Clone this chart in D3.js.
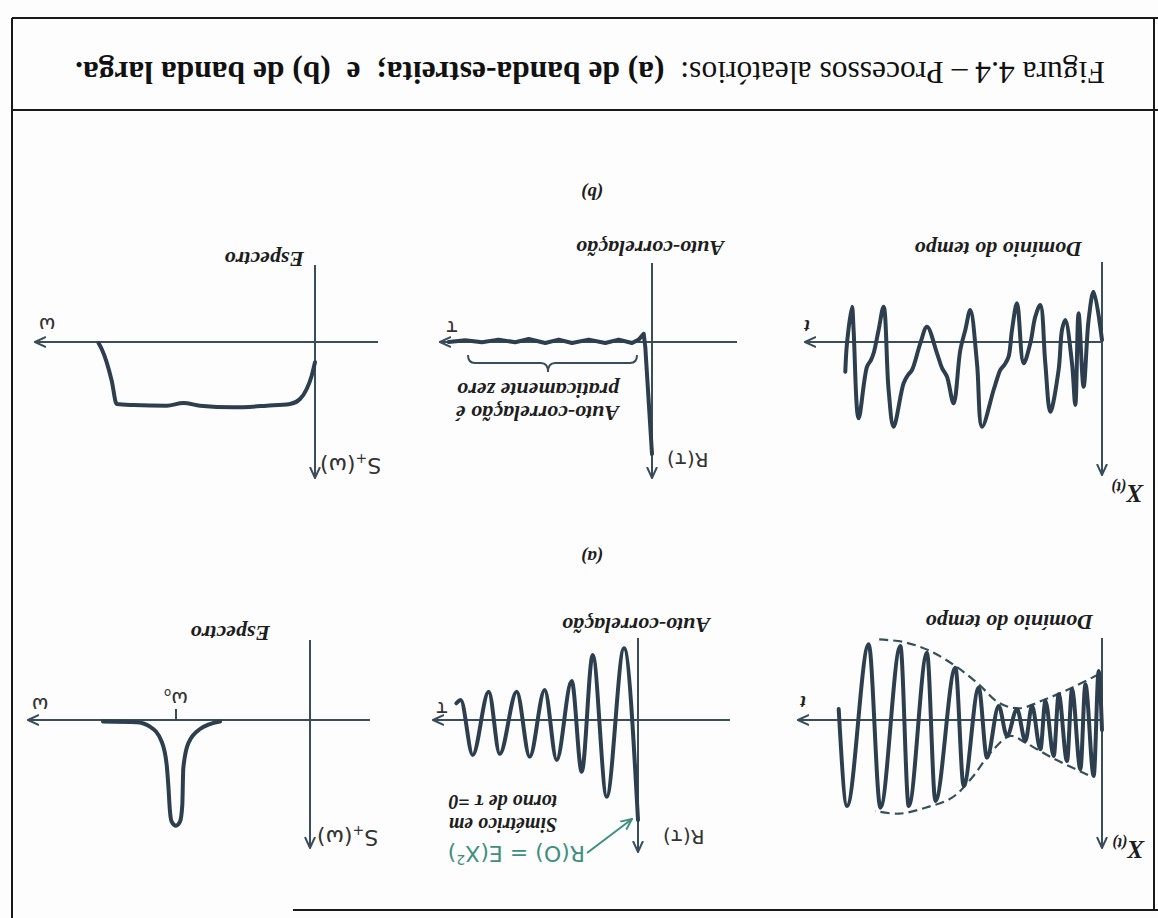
<!DOCTYPE html>
<html>
<head>
<meta charset="utf-8">
<script src="https://d3js.org/d3.v7.min.js"></script>
<style>
body { margin:0; background:#fff; }
.eixo { stroke:#3a4d5a; stroke-width:2; fill:none; }
.curva { stroke:#2d3f4e; stroke-width:4; fill:none; stroke-linejoin:round; stroke-linecap:round; }
.env { stroke:#34505a; stroke-width:2.2; fill:none; stroke-dasharray:9,5; }
.rotulo { font-family:"Liberation Serif", serif; font-style:italic; font-weight:bold; font-size:22px; fill:#1e1e1e; }
.nota { font-family:"Liberation Serif", serif; font-style:italic; font-weight:bold; font-size:20px; fill:#1e1e1e; }
.letra { font-family:"Liberation Serif", serif; font-style:italic; font-weight:bold; font-size:19px; fill:#1e1e1e; }
.mao { font-family:"DejaVu Sans", sans-serif; font-size:20px; fill:#333; }
.moldura { stroke:#1a1a1a; stroke-width:2; }
</style>
</head>
<body>
<svg width=1158 height=918></svg>
<script>
// ---- valores (unidades aproximadas em pixels do desenho) ----

// (a) banda estreita - domínio do tempo
const tA_t = [0, 3.3, 8.3, 16.6, 21.6, 30, 35, 43.3, 48.3, 56.6, 61.6, 70, 76.6, 85, 95, 103.3, 115, 123.3, 138.3, 146.6, 166.6, 175, 193.3, 201.6, 221.6, 233.3, 255, 263.3];
const tA_x = [10, -49, 56, -35.7, 49.3, -30.7, 41, -25.7, 36, -19, 29.3, -14, 21, -10.7, 16, -14, 37.7, -32.3, 66, -52.3, 81, -67.3, 86, -74, 87.7, -75.7, 86, -11];
// envoltórias tracejadas
const envPos_t = [14, 50, 76.6, 91.6, 110, 130, 150, 176.6, 203.3, 226.6];
const envPos_x = [55, 37.7, 22.7, 16, 31, 57.7, 77.7, 87.7, 93.7, 91];
const envNeg_t = [3.3, 30, 56.6, 83.3, 103.3, 123.3, 146.6, 173.3, 200, 226.6];
const envNeg_x = [-45.7, -32.3, -20.7, -11.7, -17.3, -35.7, -54, -69.7, -78.3, -80.7];

// (a) auto-correlação
const rA_tau = [0, 14, 31.3, 45.3, 56.3, 66.3, 81.3, 93.3, 108.3, 121.3, 138.3, 149.3, 165.3, 177.3, 181.6];
const rA_R = [100, -71.7, 76.7, -65, 51.7, -39, 40, -30, 36.7, -28.3, 34, -28.3, 35, -20, -16.7];

// (a) espectro
const sA_w = [90, 110, 121.7, 126.7, 127.7, 130, 134, 138.3, 140, 141.7, 143.3, 148.3, 160, 173.3, 207];
const sA_S = [1.5, 9, 23.3, 48.3, 85, 101.7, 105.7, 101.7, 91.7, 65, 45, 21.7, 6.7, 2.3, 1.5];
const omega0 = 134;

// (b) banda larga - domínio do tempo
const tB_t = [0, 8.4, 13.4, 18.4, 23.4, 26.7, 30, 36.7, 40, 43.4, 51.7, 56.7, 61.7, 66.7, 71.7, 78.4, 85, 90, 93.4, 97, 101.7, 104, 108.4, 120, 125, 131.7, 136.7, 141.7, 148.4, 155, 160, 165, 175, 181.7, 190, 194, 198.4, 208.4, 213.4, 218.4, 223.4, 228.4, 231, 235, 243.4, 248.4, 250, 255, 256.7];
const tB_x = [-2, -50.3, -22, 44.7, -28.7, 63, 21.3, -22, -12, 28, 69.7, 21.3, -37, -25.3, 1.3, 21.3, -38.7, -12, 14.7, 22, 28, 34, 48, 84.7, 21.3, -32, -12, 8, 61.3, 34.7, 26, 11.3, -15.3, 1.3, 28, 33, 41.3, 84.7, 48, -35.3, -12, 11.3, 18, 24.7, 76.3, -12, -35.3, 1.3, 29.7];

// (b) auto-correlação
const rB_tau = [0, 6.7, 8.3, 13.3, 20, 33.3, 46.7, 63.3, 80, 93.3, 106.7, 123.3, 136.7, 153.3, 170, 186.7, 203.3];
const rB_R = [112, 5, -8.3, -2.4, 1, -2.4, 1, -2.4, 1, -2.4, 1, -3, 0.3, -2.4, 0.3, -1.7, 0];
const chave = {de: 15, ate: 184, ponta: 104};

// (b) espectro
const sB_w = [0, 3.3, 8.3, 15, 25, 48.3, 81.7, 115, 131.7, 148.3, 181.7, 198.3, 203.3, 208.3, 213.3, 216.5];
const sB_S = [20.3, 33.7, 47, 57, 62, 63.7, 65.3, 63.7, 61, 63.7, 63, 62, 38.7, 20.3, 7, 1];

const titulos = ["Domínio do tempo", "Auto-correlação", "Espectro"];
const legenda1 = "Figura 4.4 – Processos aleatórios:";
const legenda2 = "(a) de banda-estreita;  e  (b) de banda larga.";

// ---------------------------------------------------------------
const W = 1158, H = 918;
const svg = d3.select("svg");
svg.append("rect").attr("width", W).attr("height", H).attr("fill", "#fdfdfd");

const defs = svg.append("defs");
function marcador(id, cor) {
  defs.append("marker").attr("id", id).attr("viewBox", "0 -6 12 12")
    .attr("refX", 11).attr("refY", 0).attr("markerWidth", 12).attr("markerHeight", 12)
    .attr("markerUnits", "userSpaceOnUse").attr("orient", "auto")
    .append("path").attr("d", "M0,-5L11,0L0,5").attr("fill", "none")
    .attr("stroke", cor).attr("stroke-width", 2);
}
marcador("seta", "#3a4d5a");
marcador("setaVerde", "#3f8f80");

// a página digitalizada está de cabeça para baixo
const root = svg.append("g").attr("transform", `rotate(180 ${W / 2} ${H / 2})`);

// moldura
root.append("line").attr("class", "moldura").attr("x1", 1146).attr("y1", 0).attr("x2", 1146).attr("y2", 900);
root.append("line").attr("class", "moldura").attr("x1", 0).attr("y1", 900).attr("x2", 1146).attr("y2", 900);
root.append("line").attr("class", "moldura").attr("x1", 0).attr("y1", 808).attr("x2", 1146).attr("y2", 808);
root.append("line").attr("class", "moldura").attr("x1", 0).attr("y1", 8).attr("x2", 865).attr("y2", 8);
root.append("line").attr("class", "moldura").attr("x1", 4).attr("y1", 8).attr("x2", 4).attr("y2", 900);

function painel(ox, oy, xmin, xmax, ymin, ymax) {
  const x = d3.scaleLinear().domain([0, 100]).range([ox, ox + 100]);
  const y = d3.scaleLinear().domain([0, 100]).range([oy, oy - 100]);
  const g = root.append("g");
  g.append("line").attr("class", "eixo").attr("x1", x(xmin)).attr("x2", x(xmax))
    .attr("y1", y(0)).attr("y2", y(0)).attr("marker-end", "url(#seta)");
  g.append("line").attr("class", "eixo").attr("x1", x(0)).attr("x2", x(0))
    .attr("y1", y(ymin)).attr("y2", y(ymax)).attr("marker-end", "url(#seta)");
  return {x, y, g};
}
function curva(p, xs, ys, tipo, cls) {
  const pts = xs.map((v, i) => [v, ys[i]]);
  const line = d3.line().x(d => p.x(d[0])).y(d => p.y(d[1])).curve(tipo);
  p.g.append("path").attr("class", cls || "curva").attr("d", line(pts));
}
function texto(p, xv, yv, s, cls, anc) {
  return p.g.append("text").attr("class", cls).attr("x", p.x(xv)).attr("y", p.y(yv))
    .attr("text-anchor", anc || "start").text(s);
}
function rotuloX(p, xv, yv) {
  const t = p.g.append("text").attr("class", "letra").attr("x", p.x(xv)).attr("y", p.y(yv));
  t.append("tspan").style("font-size", "25px").text("X");
  t.append("tspan").style("font-size", "16px").attr("dy", 3).text("(t)");
}
function rotuloS(p, xv, yv) {
  const t = p.g.append("text").attr("class", "mao").attr("x", p.x(xv)).attr("y", p.y(yv)).attr("text-anchor", "end")
    .style("font-size", "22px");
  t.append("tspan").text("S");
  t.append("tspan").style("font-size", "14px").attr("dy", 4).text("+");
  t.append("tspan").attr("dy", -4).text("(ω)");
}

// ---------- linha (a) ----------
const pTA = painel(56, 198, 0, 304, -82, 128);
curva(pTA, envPos_t, envPos_x, d3.curveCatmullRom, "env");
curva(pTA, envNeg_t, envNeg_x, d3.curveCatmullRom, "env");
curva(pTA, tA_t, tA_x, d3.curveMonotoneX);
texto(pTA, 9, -105, titulos[0], "rotulo");
texto(pTA, 299, -24, "t", "letra", "middle");
rotuloX(pTA, -42, 121);

const pRA = painel(520, 198, -92, 205, -82, 132);
curva(pRA, rA_tau, rA_R, d3.curveMonotoneX);
texto(pRA, -72, -102, titulos[1], "rotulo");
texto(pRA, 196, -18, "τ", "mao", "middle");
texto(pRA, -25, 110, "R(τ)", "mao", "end");
texto(pRA, 81, 98, "Simétrico em", "nota");
texto(pRA, 81, 75, "torno de  τ =0", "nota");
const r0 = pRA.g.append("text").attr("x", pRA.x(53)).attr("y", pRA.y(126))
  .style("font-family", "'DejaVu Sans', sans-serif").style("font-size", "22px").style("fill", "#3f8f80");
r0.append("tspan").text("R(O) = E(X");
r0.append("tspan").style("font-size", "14px").attr("dy", -9).text("2");
r0.append("tspan").attr("dy", 9).text(")");
pRA.g.append("line").attr("x1", pRA.x(51)).attr("y1", pRA.y(133)).attr("x2", pRA.x(6)).attr("y2", pRA.y(99))
  .attr("stroke", "#3f8f80").attr("stroke-width", 2).attr("marker-end", "url(#setaVerde)");

const pSA = painel(848, 198, -60, 282, -80, 128);
curva(pSA, sA_w, sA_S, d3.curveMonotoneX);
pSA.g.append("line").attr("class", "eixo").attr("x1", pSA.x(omega0)).attr("x2", pSA.x(omega0))
  .attr("y1", pSA.y(0)).attr("y2", pSA.y(-11));
texto(pSA, 40, -94, titulos[2], "rotulo");
texto(pSA, 270, -22, "ω", "mao", "middle");
const w0 = texto(pSA, omega0, -28, "ω", "mao", "middle");
w0.append("tspan").style("font-size", "12px").attr("dy", 3).text("o");
rotuloS(pSA, -7, 110);

// ---------- linha (b) ----------
const pTB = painel(56, 576, 0, 297, -80, 133);
curva(pTB, tB_t, tB_x, d3.curveCatmullRom);
texto(pTB, 20, -100, titulos[0], "rotulo");
texto(pTB, 295, -22, "t", "letra", "middle");
rotuloX(pTB, -41, 143);

const pRB = painel(506, 576, -85, 212, -79, 136);
curva(pRB, rB_tau, rB_R, d3.curveLinear);
texto(pRB, -72, -101, titulos[1], "rotulo");
texto(pRB, 200, -21, "τ", "mao", "middle");
texto(pRB, -15, 111, "R(τ)", "mao", "end");
// chave sobre a parte "praticamente zero"
{
  const x = pRB.x, y = pRB.y, a = chave.de, b = chave.ate, m = chave.ponta;
  const d = `M${x(a)},${y(13)} Q${x(a)},${y(21)} ${x(a + 7)},${y(21)} L${x(m - 7)},${y(21)} ` +
            `Q${x(m)},${y(21)} ${x(m)},${y(30)} Q${x(m)},${y(21)} ${x(m + 7)},${y(21)} ` +
            `L${x(b - 7)},${y(21)} Q${x(b)},${y(21)} ${x(b)},${y(13)}`;
  pRB.g.append("path").attr("d", d).attr("class", "eixo");
}
texto(pRB, 33, 64, "Auto-correlação é", "rotulo");
texto(pRB, 33, 41, "praticamente zero", "rotulo");

const pSB = painel(843, 576, -63, 280, -77, 136);
curva(pSB, sB_w, sB_S, d3.curveMonotoneX);
texto(pSB, 11, -90, titulos[2], "rotulo");
texto(pSB, 268, -24, "ω", "mao", "middle");
rotuloS(pSB, -5, 116);

// legendas (a) e (b)
root.append("text").attr("class", "letra").attr("x", 566).attr("y", 367).attr("text-anchor", "middle").text("(a)");
root.append("text").attr("class", "letra").attr("x", 566).attr("y", 731).attr("text-anchor", "middle").text("(b)");

// título da figura
const tit = root.append("text").attr("x", 568).attr("y", 856).attr("text-anchor", "middle")
  .style("font-family", "'Liberation Serif', serif").style("font-size", "28px").style("fill", "#111")
  .attr("xml:space", "preserve");
tit.append("tspan").text(legenda1 + "  ");
tit.append("tspan").style("font-weight", "bold").text(legenda2);
const larg = tit.node().getComputedTextLength();
tit.style("font-size", (28 * 1030 / larg).toFixed(2) + "px");
</script>
</body>
</html>
